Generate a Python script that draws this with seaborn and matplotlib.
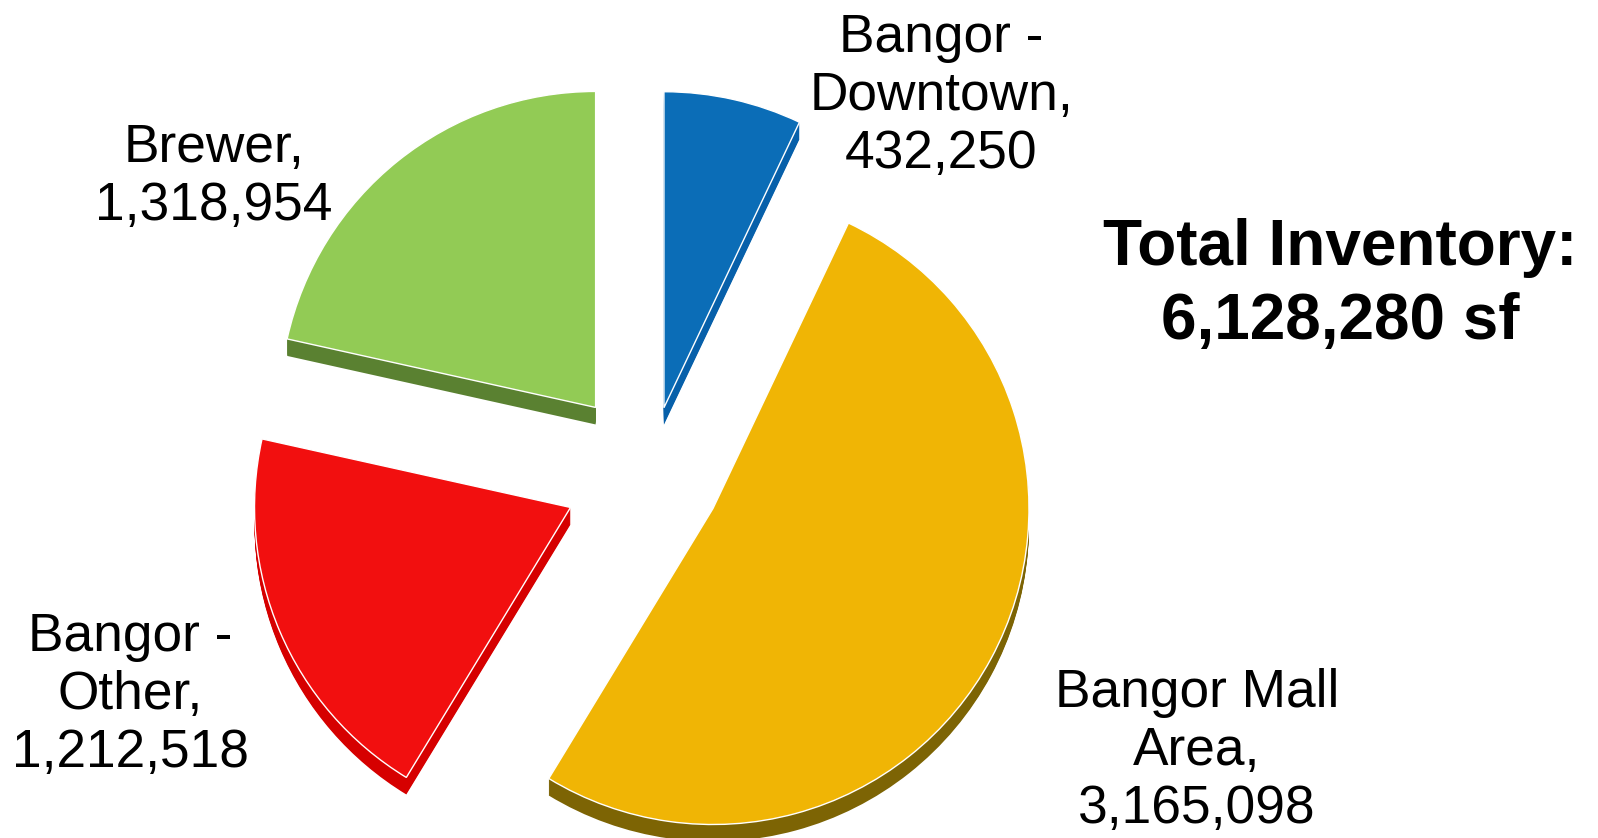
import matplotlib
matplotlib.use("Agg")
import matplotlib.pyplot as plt
import seaborn as sns

# Retail inventory by submarket (square feet)
areas = ["Bangor -\nDowntown", "Bangor Mall\nArea", "Bangor -\nOther", "Brewer"]
inventory_sf = [432250, 3165098, 1212518, 1318954]
total_label = "6,128,280"

top_colors = sns.color_palette(["#0B6DB7", "#F0B505", "#F20F0F", "#92CB55"])
side_colors = sns.color_palette(["#0760AA", "#7D6404", "#D60000", "#5A8131"])

sns.set_theme(style="white")
plt.rcParams["font.family"] = ["Liberation Sans", "DejaVu Sans"]

W, H = 1598, 838
fig = plt.figure(figsize=(W / 100, H / 100), dpi=100)
ax = fig.add_axes([0, 0, 1, 1])

center = (649, H - 474)
radius = 316
# pie() applies explode in data units, so scale the fractions by the radius
explode_frac = [0.215, 0.23, 0.27, 0.27]
explode = [f * radius for f in explode_frac]

# extruded side of the pie: stacked copies stepping downwards
depth = 17
for k in range(depth, 0, -1):
    ax.pie(inventory_sf, colors=side_colors, startangle=90, counterclock=False,
           radius=radius, center=(center[0], center[1] - k),
           explode=explode, wedgeprops=dict(linewidth=0))

# top face
ax.pie(inventory_sf, colors=top_colors, startangle=90, counterclock=False,
       radius=radius, center=center, explode=explode,
       wedgeprops=dict(edgecolor="white", linewidth=1.0))

ax.set_xlim(0, W)
ax.set_ylim(0, H)
ax.set_aspect("equal")
ax.axis("off")

# slice labels
label_pos = [(941, 96), (1197, 751), (130, 695), (214, 177)]
for name, val, (x, y) in zip(areas, inventory_sf, label_pos):
    fig.text(x / W, 1 - y / H, f"{name},\n{val:,}", ha="center", va="center",
             fontsize=38.3, linespacing=1.2, color="black")

fig.text(1340 / W, 1 - 285 / H, f"Total Inventory:\n{total_label} sf",
         ha="center", va="center", fontsize=46, fontweight="bold",
         linespacing=1.29, color="black")

fig.savefig("out.png", dpi=100, facecolor="white")
